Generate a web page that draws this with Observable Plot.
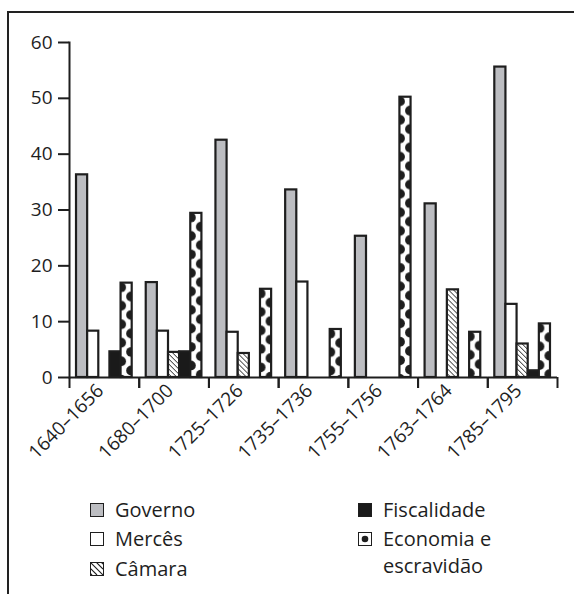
<!DOCTYPE html>
<html>
<head>
<meta charset="utf-8">
<script src="https://cdn.jsdelivr.net/npm/d3@7"></script>
<script src="https://cdn.jsdelivr.net/npm/@observablehq/plot@0.6"></script>
<style>
  html, body { margin: 0; padding: 0; background: #fff; }
  body { width: 574px; height: 596px; position: relative; overflow: hidden; font-family: "Open Sans", sans-serif; color: #222; }
  #border { position: absolute; left: 7px; top: 11px; width: 600px; height: 581px; border-top: 2.5px solid #222; border-left: 2.5px solid #222; }
  #chart { position: absolute; left: 0; top: 0; }
  .legend { position: absolute; font-size: 20px; line-height: 27px; color: #1e1e1e; }
  .sw { position: absolute; width: 12px; height: 12px; border: 1.8px solid #1e1e1e; box-sizing: content-box; }
  .lab { position: absolute; white-space: nowrap; }
</style>
</head>
<body>
<div id="border"></div>
<div id="chart"></div>
<div id="legend"></div>
<script>
// ---- data ----
const periods = ["1640–1656", "1680–1700", "1725–1726", "1735–1736", "1755–1756", "1763–1764", "1785–1795"];
const series = ["Governo", "Mercês", "Câmara", "Fiscalidade", "Economia e escravidão"];
const governo     = [36.3, 17.0, 42.5, 33.6, 25.3, 31.1, 55.6];
const merces      = [8.3, 8.3, 8.1, 17.1, 0, 0, 13.1];
const camara      = [0, 4.5, 4.3, 0, 0, 15.7, 6.0];
const fiscalidade = [4.6, 4.6, 0, 0, 0, 0, 1.2];
const economia    = [16.9, 29.4, 15.8, 8.6, 50.2, 8.1, 9.6];
const yTicks = [0, 10, 20, 30, 40, 50, 60];

const valuesBySeries = [governo, merces, camara, fiscalidade, economia];
const data = [];
periods.forEach((p, i) => {
  series.forEach((s, j) => {
    data.push({period: p, series: s, value: valuesBySeries[j][i]});
  });
});

// ---- layout ----
const W = 574, H = 470, ML = 69, MR = 17, MT = 42, MB = 93;
const groupW = (W - ML - MR) / periods.length;
const padOuter = 0.63;
const bandW = groupW / (series.length + 2 * padOuter);
const ink = "#1e1e1e";
const fills = ["#bcbdc1", "#ffffff", "url(#hatchCamara)", "#1a1a1a", "url(#ecoPattern)"];

const chart = Plot.plot({
  width: W, height: H,
  marginLeft: ML, marginRight: MR, marginTop: MT, marginBottom: MB,
  style: {fontFamily: "Open Sans, sans-serif", fontSize: "19px", color: ink, background: "transparent", overflow: "visible"},
  fx: {domain: periods, padding: 0, round: false, axis: null, label: null},
  x: {domain: series, paddingInner: 0, paddingOuter: padOuter, align: 0.5, round: false, axis: null},
  y: {domain: [0, 60], axis: null, label: null},
  color: {domain: series, range: fills},
  marks: [
    Plot.barY(data.filter(d => d.value > 0), {
      fx: "period", x: "series", y: "value", fill: "series",
      stroke: ink, strokeWidth: 2.2, inset: 0
    }),
    Plot.ruleY([0], {stroke: ink, strokeWidth: 2}),
    Plot.frame({anchor: "left", facetAnchor: "left", stroke: ink, strokeWidth: 2}),
    Plot.axisY(yTicks, {anchor: "left", label: null, tickSize: 11, tickPadding: 6, strokeWidth: 2, stroke: ink, fill: ink, fontSize: 19}),
    Plot.axisFx({anchor: "bottom", label: null, text: null, tickSize: 11, dx: -groupW / 2, strokeWidth: 2, stroke: ink}),
    Plot.axisFx([periods[periods.length - 1]], {anchor: "bottom", label: null, text: null, tickSize: 11, dx: groupW / 2, strokeWidth: 2, stroke: ink}),
    Plot.axisFx({anchor: "bottom", label: null, tickSize: 0, tickRotate: -45, tickPadding: 10, dx: -4, fill: ink, fontSize: 19})
  ]
});

// pattern definitions
const svgNS = "http://www.w3.org/2000/svg";
const svg = chart.tagName.toLowerCase() === "svg" ? chart : chart.querySelector("svg");
const defs = document.createElementNS(svgNS, "defs");
defs.innerHTML = `
  <pattern id="hatchCamara" patternUnits="userSpaceOnUse" width="5" height="5">
    <rect width="5" height="5" fill="#fff"/>
    <path d="M0,0 L5,5 M-1,4 L1,6 M4,-1 L6,1" stroke="${ink}" stroke-width="1"/>
  </pattern>`;
const P = 18.5, r = 4.9;
let dots = "";
for (let y = 0; y <= 430; y += P) {
  dots += `<circle cx="0.6" cy="${(y + P * 0.25).toFixed(2)}" r="${r}" fill="${ink}"/>`;
  dots += `<circle cx="${(bandW - 0.6).toFixed(2)}" cy="${(y + P * 0.75).toFixed(2)}" r="${r}" fill="${ink}"/>`;
}
defs.innerHTML += `
  <pattern id="ecoPattern" patternUnits="objectBoundingBox" x="0" y="0" width="1" height="1">
    <rect x="-2" y="-2" width="${bandW + 4}" height="440" fill="#fff"/>
    ${dots}
  </pattern>`;
svg.insertBefore(defs, svg.firstChild);
document.getElementById("chart").appendChild(chart);

// ---- legend ----
const legend = document.getElementById("legend");
const legendItems = [
  {label: "Governo", col: 0, row: 0},
  {label: "Mercês", col: 0, row: 1},
  {label: "Câmara", col: 0, row: 2},
  {label: "Fiscalidade", col: 1, row: 0},
  {label: "Economia e<br>escravidão", col: 1, row: 1}
];
const colX = [90, 358], rowY = [503, 532, 562];
legendItems.forEach((it, k) => {
  const sw = document.createElement("div");
  sw.className = "sw";
  sw.style.left = colX[it.col] + "px";
  sw.style.top = rowY[it.row] + "px";
  const s = document.createElementNS(svgNS, "svg");
  s.setAttribute("width", 12); s.setAttribute("height", 12);
  s.style.display = "block";
  if (k === 0) s.innerHTML = `<rect width="12" height="12" fill="#bcbdc1"/>`;
  if (k === 1) s.innerHTML = `<rect width="12" height="12" fill="#fff"/>`;
  if (k === 2) s.innerHTML = `<rect width="12" height="12" fill="#fff"/><path d="M0,0L12,12M-2,4L6,12M4,-2L12,6M-2,9L1,12M9,-2L12,1" stroke="${ink}" stroke-width="1.1"/>`;
  if (k === 3) s.innerHTML = `<rect width="12" height="12" fill="#1a1a1a"/>`;
  if (k === 4) s.innerHTML = `<rect width="12" height="12" fill="#fff"/><circle cx="6" cy="6" r="3.3" fill="${ink}"/>`;
  sw.appendChild(s);
  legend.appendChild(sw);
  const lab = document.createElement("div");
  lab.className = "legend lab";
  lab.innerHTML = it.label;
  lab.style.left = (colX[it.col] + 25) + "px";
  lab.style.top = (rowY[it.row] - 7) + "px";
  legend.appendChild(lab);
});
</script>
</body>
</html>
